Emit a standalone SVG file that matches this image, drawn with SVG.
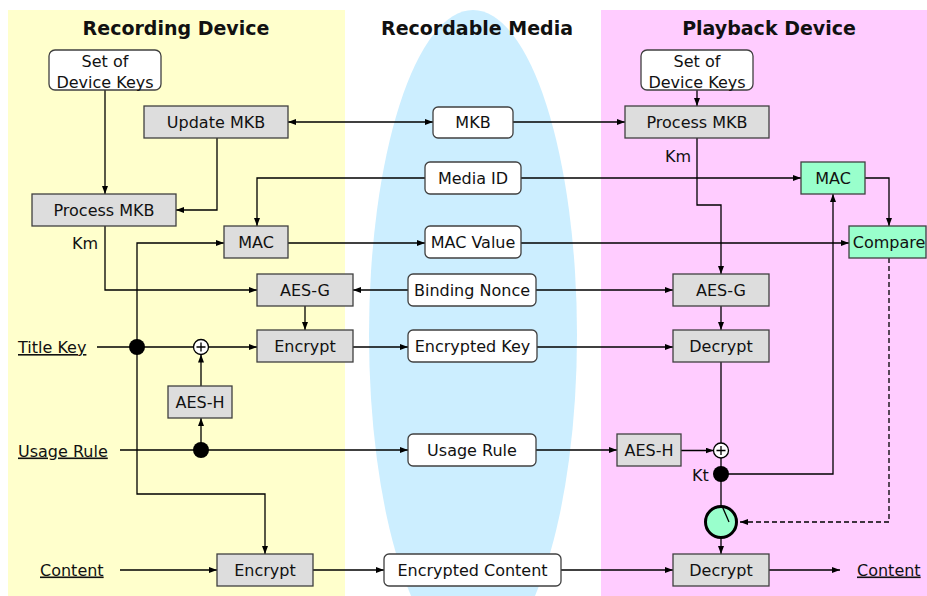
<svg xmlns="http://www.w3.org/2000/svg" width="927" height="596" viewBox="0 0 927 596">
<defs>
<marker id="ah" viewBox="0 0 8 6" refX="8" refY="3" markerWidth="8" markerHeight="6" markerUnits="userSpaceOnUse" orient="auto-start-reverse">
<path d="M0,0 L8,3 L0,6 z" fill="#000"/>
</marker>
<style>
.t{font-family:"DejaVu Sans",Verdana,sans-serif;font-size:16px;fill:#111;text-anchor:middle}
.tl{font-family:"DejaVu Sans",Verdana,sans-serif;font-size:16px;fill:#111}
.u{text-decoration:underline}
.h{font-family:"DejaVu Sans",Verdana,sans-serif;font-size:19px;font-weight:bold;fill:#111;text-anchor:middle}
.g{fill:#dddddd;stroke:#404040;stroke-width:1.3}
.w{fill:#ffffff;stroke:#404040;stroke-width:1.3}
.gr{fill:#99ffcc;stroke:#404040;stroke-width:1.3}
.c{fill:none;stroke:#000;stroke-width:1.3}
.a{marker-end:url(#ah)}
.d{stroke-dasharray:5,3}
</style>
</defs>
<rect x="8" y="10" width="337" height="586" fill="#ffffcc"/>
<rect x="601" y="10" width="326" height="586" fill="#ffccff"/>
<ellipse cx="473" cy="335" rx="104" ry="325" fill="#cceeff"/>
<text class="h" x="176" y="35">Recording Device</text>
<text class="h" x="477" y="35">Recordable Media</text>
<text class="h" x="769" y="35">Playback Device</text>
<g id="connectors">
<path class="c a" d="M105,90 V194"/>
<path class="c a" d="M217,138 V210 H176"/>
<path class="c a" d="M288,122 H433" marker-start="url(#ah)"/>
<path class="c a" d="M513,122 H625"/>
<path class="c a" d="M697,90 V106"/>
<path class="c a" d="M425,178 H257 V226"/>
<path class="c a" d="M521,178 H801"/>
<path class="c a" d="M105,226 V290 H257"/>
<path class="c a" d="M137,347 V243 H224"/>
<path class="c a" d="M137,347 V494 H265 V554"/>
<path class="c a" d="M288,243 H425"/>
<path class="c a" d="M521,243 H849"/>
<path class="c a" d="M408,290 H353"/>
<path class="c a" d="M536,290 H673"/>
<path class="c a" d="M305,306 V330"/>
<path class="c" d="M97,347 H193"/>
<path class="c a" d="M208.5,347 H257"/>
<path class="c a" d="M201,386 V354.5"/>
<path class="c a" d="M201,450 V418"/>
<path class="c a" d="M120,450 H408"/>
<path class="c a" d="M353,347 H408"/>
<path class="c a" d="M537,347 H673"/>
<path class="c a" d="M697,138 V205 H721 V274"/>
<path class="c a" d="M721,306 V330"/>
<path class="c a" d="M536,450 H617"/>
<path class="c a" d="M681,450.5 H713.5"/>
<path class="c" d="M721,362 V443"/>
<path class="c" d="M721,458 V506"/>
<path class="c a" d="M721,474 H833 V194"/>
<path class="c a" d="M721,538 V554"/>
<path class="c a" d="M865,178 H889 V226"/>
<path class="c a d" d="M889,258 V522 H740"/>
<path class="c a" d="M120,570 H217"/>
<path class="c a" d="M313,570 H384"/>
<path class="c a" d="M561,570 H673"/>
<path class="c a" d="M769,570 H840"/>
</g>
<g id="keys-rec"><rect class="w" x="49" y="50" width="112" height="40" rx="6"/><text class="t" x="105" y="67">Set of</text><text class="t" x="105" y="87.5">Device Keys</text></g>
<g id="update-mkb"><rect class="g" x="144" y="106" width="144" height="32"/><text class="t" x="216" y="128">Update MKB</text></g>
<g id="process-mkb-rec"><rect class="g" x="32" y="194" width="144" height="32"/><text class="t" x="104" y="216">Process MKB</text></g>
<text id="km-rec" class="tl" x="72" y="249">Km</text>
<g id="mac-rec"><rect class="g" x="224" y="226" width="64" height="32"/><text class="t" x="256" y="248">MAC</text></g>
<g id="aesg-rec"><rect class="g" x="257" y="274" width="96" height="32"/><text class="t" x="305" y="296">AES-G</text></g>
<g id="encrypt-key"><rect class="g" x="257" y="330" width="96" height="32"/><text class="t" x="305" y="352">Encrypt</text></g>
<text id="title-key" class="tl u" x="18" y="353">Title Key</text>
<g id="dot-title"><circle cx="137" cy="347" r="8" fill="#000"/></g>
<g id="xor-rec"><circle cx="201" cy="347" r="7.5" fill="#fff" stroke="#000" stroke-width="1.3"/><path d="M196.5,347 H205.5 M201,342.5 V351.5" stroke="#000" stroke-width="1.3"/></g>
<g id="aesh-rec"><rect class="g" x="168" y="386" width="64" height="32"/><text class="t" x="200" y="408">AES-H</text></g>
<text id="usage-rule-in" class="tl u" x="18" y="456.5">Usage Rule</text>
<g id="dot-usage"><circle cx="201" cy="450" r="8" fill="#000"/></g>
<text id="content-in" class="tl u" x="40" y="575.5">Content</text>
<g id="encrypt-content"><rect class="g" x="217" y="554" width="96" height="32"/><text class="t" x="265" y="576">Encrypt</text></g>
<g id="mkb"><rect class="w" x="433" y="107" width="80" height="31" rx="5"/><text class="t" x="473" y="128">MKB</text></g>
<g id="media-id"><rect class="w" x="425" y="162" width="96" height="32" rx="5"/><text class="t" x="473" y="184">Media ID</text></g>
<g id="mac-value"><rect class="w" x="425" y="226" width="96" height="32" rx="5"/><text class="t" x="473" y="248">MAC Value</text></g>
<g id="binding-nonce"><rect class="w" x="408" y="274" width="128" height="32" rx="5"/><text class="t" x="472" y="296">Binding Nonce</text></g>
<g id="encrypted-key"><rect class="w" x="408" y="330" width="129" height="32" rx="5"/><text class="t" x="472.5" y="352">Encrypted Key</text></g>
<g id="usage-rule"><rect class="w" x="408" y="434" width="128" height="32" rx="5"/><text class="t" x="472" y="456">Usage Rule</text></g>
<g id="encrypted-content"><rect class="w" x="384" y="554" width="177" height="32" rx="5"/><text class="t" x="472.5" y="576">Encrypted Content</text></g>
<g id="keys-play"><rect class="w" x="641" y="50" width="112" height="40" rx="6"/><text class="t" x="697" y="67">Set of</text><text class="t" x="697" y="87.5">Device Keys</text></g>
<g id="process-mkb-play"><rect class="g" x="625" y="106" width="144" height="32"/><text class="t" x="697" y="128">Process MKB</text></g>
<text id="km-play" class="tl" x="665" y="161.5">Km</text>
<g id="mac-play"><rect class="gr" x="801" y="162" width="64" height="32"/><text class="t" x="833" y="184">MAC</text></g>
<g id="compare"><rect class="gr" x="849" y="226" width="77" height="32"/><text class="t" x="889" y="248">Compare</text></g>
<g id="aesg-play"><rect class="g" x="673" y="274" width="96" height="32"/><text class="t" x="721" y="296">AES-G</text></g>
<g id="decrypt-key"><rect class="g" x="673" y="330" width="96" height="32"/><text class="t" x="721" y="352">Decrypt</text></g>
<g id="aesh-play"><rect class="g" x="617" y="434" width="64" height="32"/><text class="t" x="649" y="456">AES-H</text></g>
<g id="xor-play"><circle cx="721" cy="450.5" r="7.5" fill="#fff" stroke="#000" stroke-width="1.3"/><path d="M716.5,450.5 H725.5 M721,446 V455" stroke="#000" stroke-width="1.3"/></g>
<g id="dot-kt"><circle cx="721" cy="474" r="8" fill="#000"/></g>
<text id="kt" class="tl" x="692" y="481">Kt</text>
<g id="switch"><circle cx="721" cy="522" r="15.5" fill="#99ffcc" stroke="#000" stroke-width="3"/><path d="M722.5,507 L729,522" stroke="#000" stroke-width="1.3"/></g>
<g id="decrypt-content"><rect class="g" x="673" y="554" width="96" height="32"/><text class="t" x="721" y="576">Decrypt</text></g>
<text id="content-out" class="tl u" x="857" y="575.5">Content</text>
</svg>
